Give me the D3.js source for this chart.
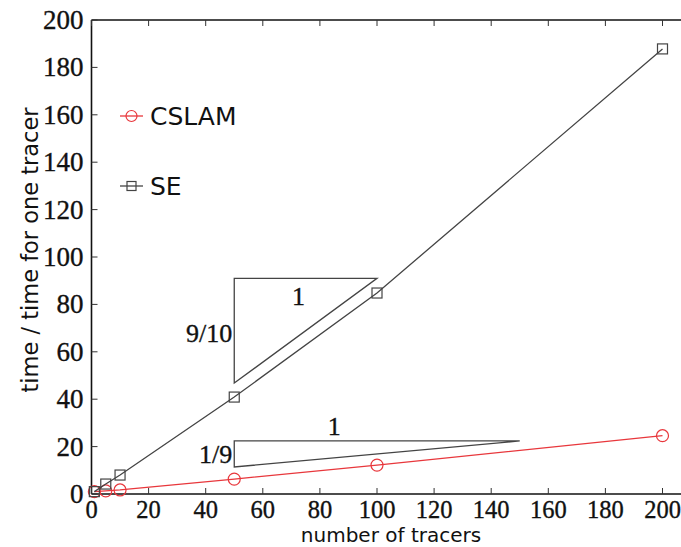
<!DOCTYPE html>
<html>
<head>
<meta charset="utf-8">
<script src="https://cdn.jsdelivr.net/npm/d3@7"></script>
<style>
  html, body { margin: 0; padding: 0; background: #fff; }
  svg { display: block; }
</style>
</head>
<body>
<svg id="chart" width="681" height="547"></svg>
<script>
// Run time relative to one tracer, versus number of tracers
const tracers = [1, 5, 10, 50, 100, 200];
const cslam = [1, 1.3, 1.7, 6.3, 12.2, 24.6];
const se = [1, 4.2, 8, 40.9, 84.8, 187.8];

const xTicks = [0, 20, 40, 60, 80, 100, 120, 140, 160, 180, 200];
const yTicks = [0, 20, 40, 60, 80, 100, 120, 140, 160, 180, 200];

// Slope triangles (data coordinates)
const triSE = [[50, 91], [100, 91], [50, 46.8]];
const triCS = [[50, 22.4], [150, 22.4], [50, 11.4]];

const svg = d3.select("#chart");
const W = 681, H = 547;
const margin = { left: 91.5, top: 20, bottom: 53 };

const x = d3.scaleLinear().domain([0, 200]).range([margin.left, 662.5]);
const y = d3.scaleLinear().domain([0, 200]).range([H - margin.bottom, margin.top]);

const serif = "'Liberation Serif', 'DejaVu Serif', serif";
const sans = "'DejaVu Sans', sans-serif";

function serifText(sel) {
  return sel.attr("font-family", serif).attr("fill", "#111")
    .attr("stroke", "#111").attr("stroke-width", 0.35);
}

// Frame: left, bottom and top spines
const g = svg.append("g");
g.append("line").attr("x1", x(0)).attr("x2", x(0)).attr("y1", y(0)).attr("y2", y(200))
  .attr("stroke", "#111").attr("stroke-width", 1.6);
g.append("line").attr("x1", x(0)).attr("x2", W).attr("y1", y(0)).attr("y2", y(0))
  .attr("stroke", "#111").attr("stroke-width", 1.6);
g.append("line").attr("x1", x(0)).attr("x2", W).attr("y1", y(200)).attr("y2", y(200))
  .attr("stroke", "#111").attr("stroke-width", 1.6);

// Inward ticks
const tickLen = 6;
xTicks.forEach(t => {
  g.append("line").attr("x1", x(t)).attr("x2", x(t)).attr("y1", y(0)).attr("y2", y(0) - tickLen)
    .attr("stroke", "#333").attr("stroke-width", 1);
  g.append("line").attr("x1", x(t)).attr("x2", x(t)).attr("y1", y(200)).attr("y2", y(200) + tickLen)
    .attr("stroke", "#333").attr("stroke-width", 1);
});
yTicks.forEach(t => {
  g.append("line").attr("x1", x(0)).attr("x2", x(0) + tickLen).attr("y1", y(t)).attr("y2", y(t))
    .attr("stroke", "#333").attr("stroke-width", 1);
});

// Tick labels
serifText(g.selectAll(".xt").data(xTicks).join("text")
  .attr("x", d => x(d)).attr("y", y(0) + 24)
  .attr("text-anchor", "middle").attr("font-size", 24.5))
  .text(d => d);
serifText(g.selectAll(".yt").data(yTicks).join("text")
  .attr("x", x(0) - 8).attr("y", d => y(d) + 9)
  .attr("text-anchor", "end").attr("font-size", 27))
  .text(d => d);

// Axis titles
svg.append("text").attr("x", 391).attr("y", 542)
  .attr("text-anchor", "middle").attr("font-family", sans).attr("font-size", 20).attr("fill", "#111")
  .text("number of tracers");
svg.append("text").attr("transform", `translate(38,${250}) rotate(-90)`)
  .attr("text-anchor", "middle").attr("font-family", sans).attr("font-size", 22.5).attr("fill", "#111")
  .text("time / time for one tracer");

// Slope triangles and their labels
const lineGen = d3.line().x(d => x(d[0])).y(d => y(d[1]));
[triSE, triCS].forEach(t => {
  svg.append("path").attr("d", lineGen(t) + "Z")
    .attr("fill", "none").attr("stroke", "#444").attr("stroke-width", 1.3);
});
serifText(svg.append("text").attr("x", x(72.5)).attr("y", y(91) + 27)
  .attr("text-anchor", "middle").attr("font-size", 26)).text("1");
serifText(svg.append("text").attr("x", x(50) - 2).attr("y", y(68) + 9)
  .attr("text-anchor", "end").attr("font-size", 26)).text("9/10");
serifText(svg.append("text").attr("x", x(85)).attr("y", y(22.4) - 6)
  .attr("text-anchor", "middle").attr("font-size", 26)).text("1");
serifText(svg.append("text").attr("x", x(50) - 2).attr("y", y(16.9) + 9)
  .attr("text-anchor", "end").attr("font-size", 26)).text("1/9");

// Series
const seriesList = [
  { name: "CSLAM", vals: cslam, color: "#e8373c", marker: "circle" },
  { name: "SE", vals: se, color: "#444", marker: "square" }
];
const plot = svg.append("g");
seriesList.forEach(s => {
  const pts = tracers.map((t, i) => [t, s.vals[i]]);
  plot.append("path").attr("d", lineGen(pts))
    .attr("fill", "none").attr("stroke", s.color).attr("stroke-width", 1.3);
  pts.forEach(p => {
    if (s.marker === "circle") {
      plot.append("circle").attr("cx", x(p[0])).attr("cy", y(p[1])).attr("r", 6)
        .attr("fill", "none").attr("stroke", s.color).attr("stroke-width", 1.2);
    } else {
      plot.append("rect").attr("x", x(p[0]) - 5).attr("y", y(p[1]) - 5)
        .attr("width", 10).attr("height", 10)
        .attr("fill", "none").attr("stroke", s.color).attr("stroke-width", 1.2);
    }
  });
});

// Legend
const legendRows = [{ s: seriesList[0], cy: 116 }, { s: seriesList[1], cy: 186 }];
legendRows.forEach(({ s, cy }) => {
  svg.append("line").attr("x1", 120).attr("x2", 143).attr("y1", cy).attr("y2", cy)
    .attr("stroke", s.color).attr("stroke-width", 1.3);
  if (s.marker === "circle") {
    svg.append("circle").attr("cx", 131.5).attr("cy", cy).attr("r", 5.5)
      .attr("fill", "none").attr("stroke", s.color).attr("stroke-width", 1.2);
  } else {
    svg.append("rect").attr("x", 127).attr("y", cy - 4.5).attr("width", 9).attr("height", 9)
      .attr("fill", "none").attr("stroke", s.color).attr("stroke-width", 1.2);
  }
  svg.append("text").attr("x", 150).attr("y", cy + 9)
    .attr("font-family", sans).attr("font-size", 25).attr("fill", "#111").text(s.name);
});
</script>
</body>
</html>
